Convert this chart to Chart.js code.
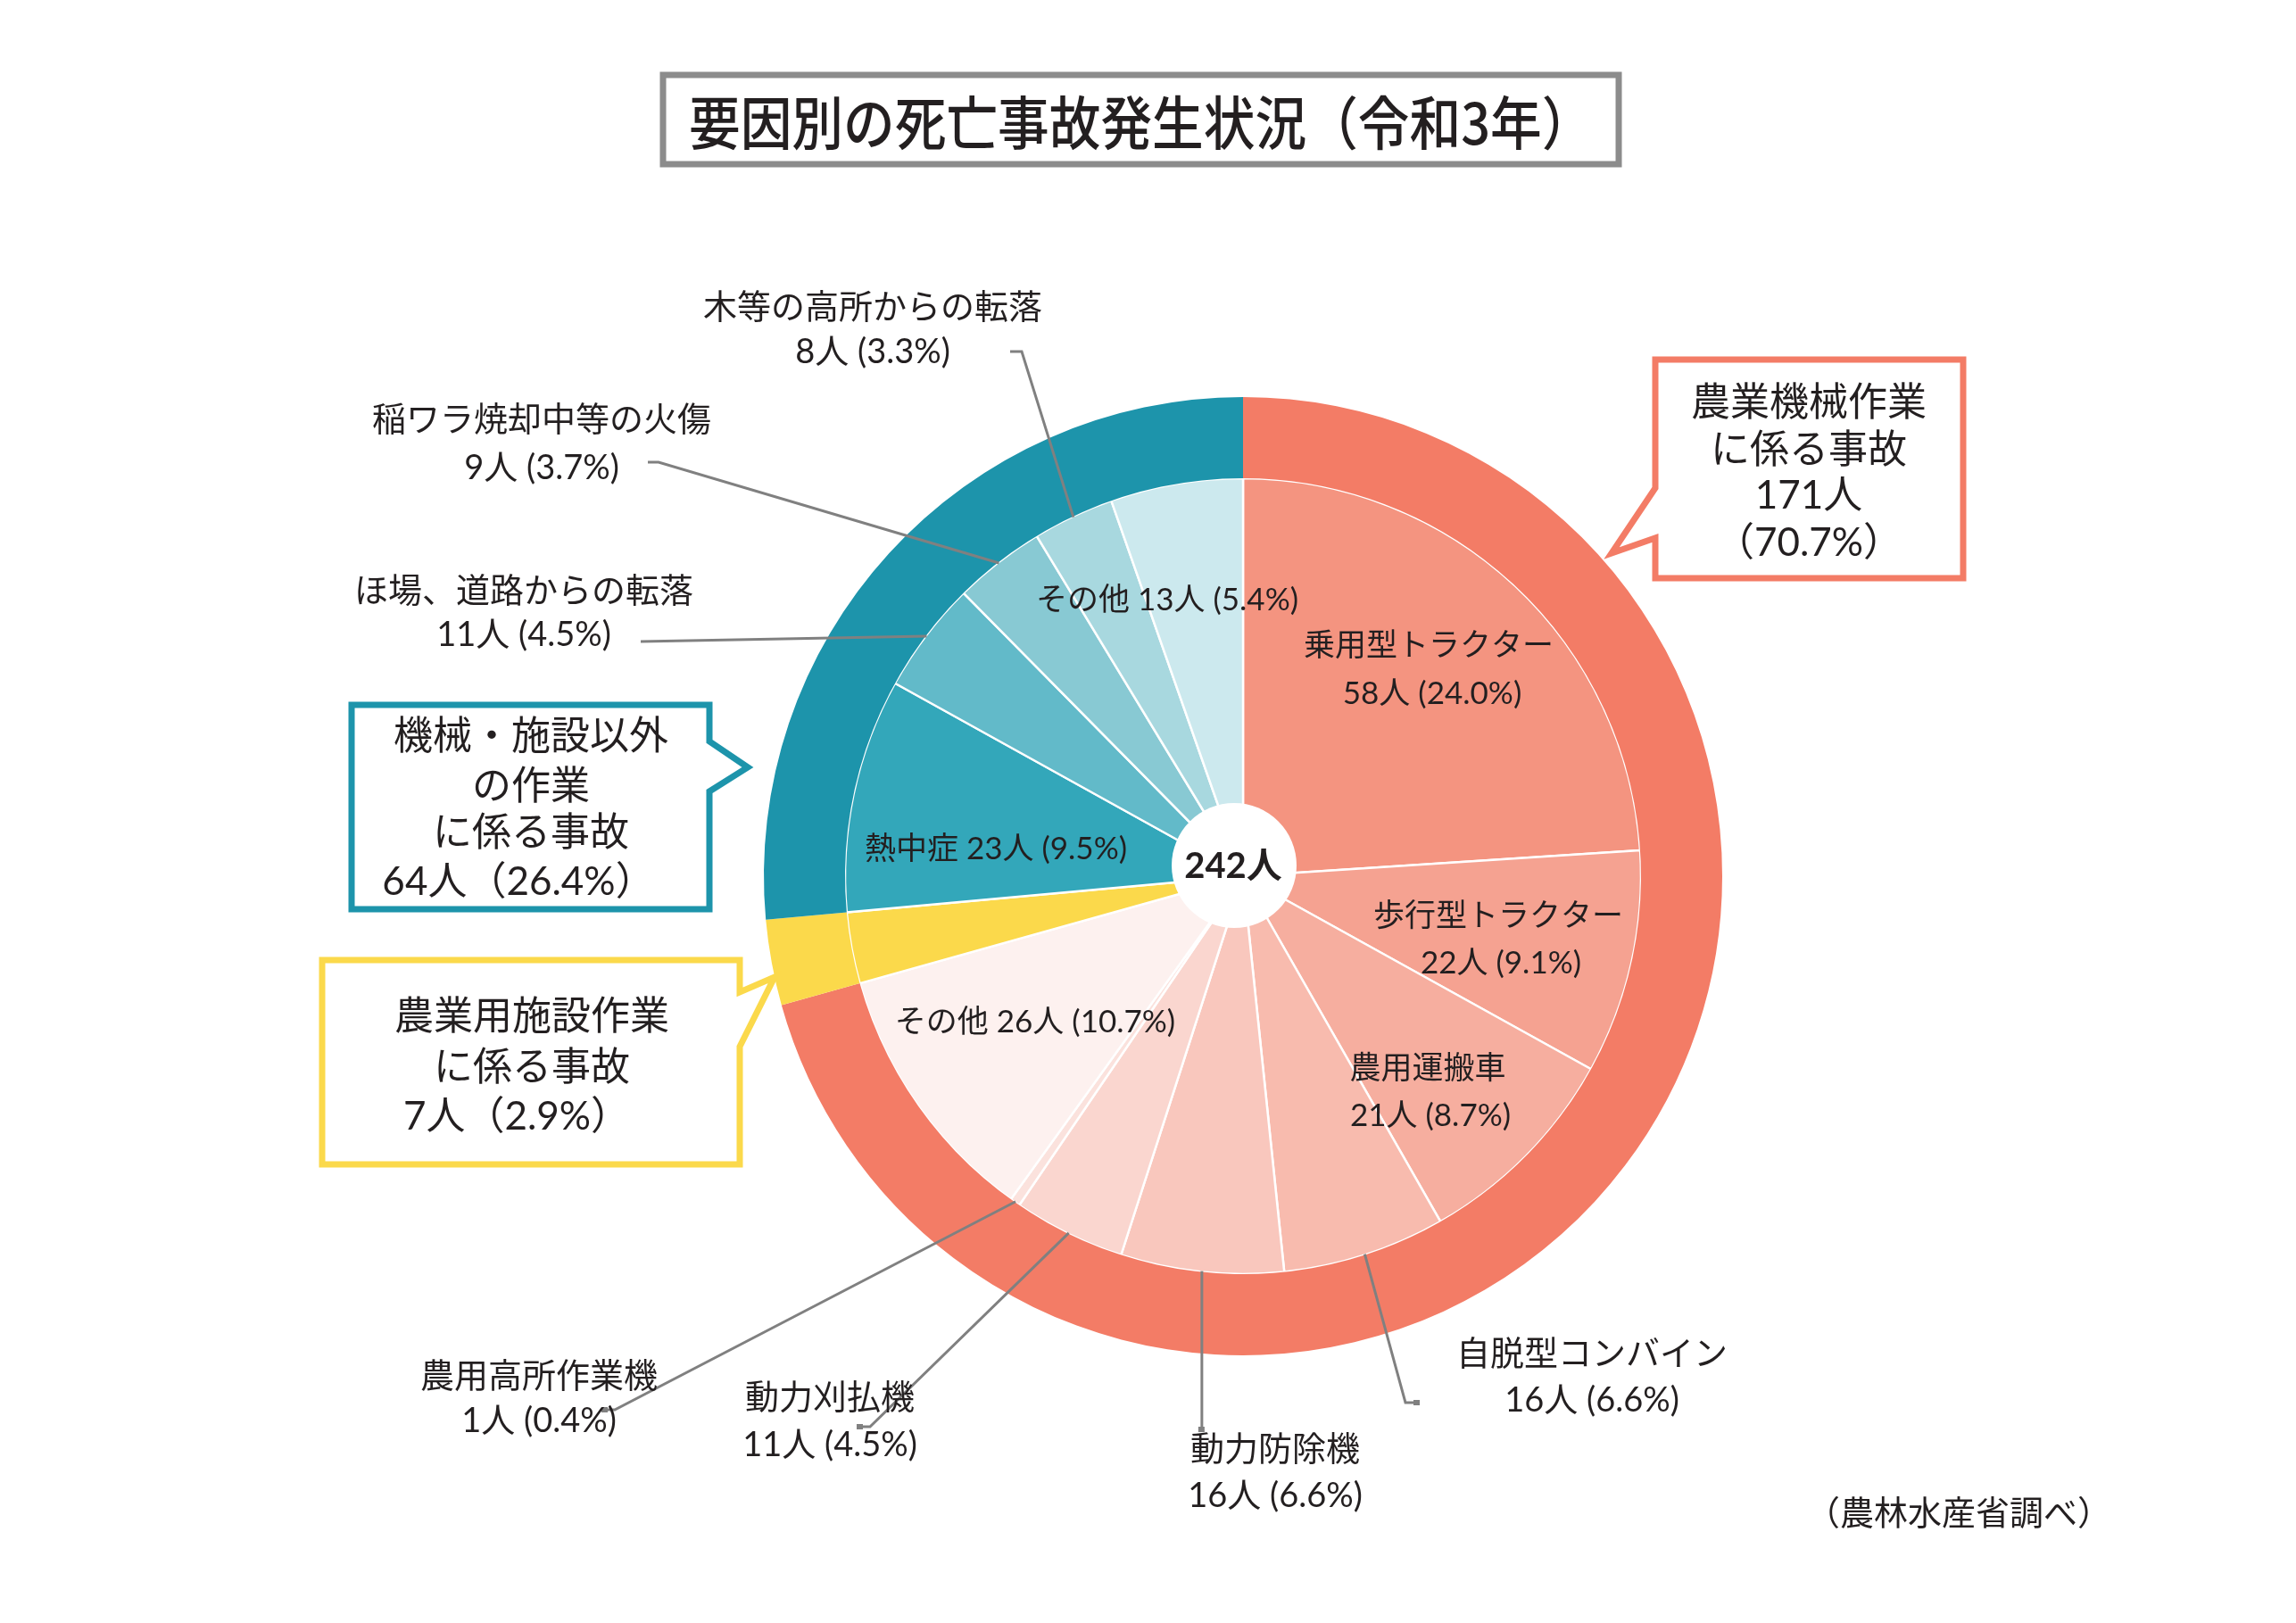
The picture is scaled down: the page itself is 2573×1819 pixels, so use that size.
<!DOCTYPE html>
<html lang="ja">
<head>
<meta charset="utf-8">
<title>要因別の死亡事故発生状況（令和3年）</title>
<script src="https://cdn.jsdelivr.net/npm/chart.js@4.4.1/dist/chart.umd.min.js"></script>
<style>
  html, body { margin: 0; padding: 0; background: #fff; }
  #chart { position: absolute; left: 0; top: 0; }
</style>
</head>
<body>
<canvas id="chart" width="2573" height="1819"></canvas>
<script>
// outer ring: three groups
const outerLabels = ["農業機械作業", "農業用施設作業", "機械・施設以外の作業"];
const outerValues = [171, 7, 64];
const outerColors = ["#F37C66", "#FBD94B", "#1D94AB"];

// inner pie: breakdown, clockwise from the top
const innerLabels = [
  "乗用型トラクター", "歩行型トラクター", "農用運搬車", "自脱型コンバイン",
  "動力防除機", "動力刈払機", "農用高所作業機", "その他",
  "農業用施設作業",
  "熱中症", "ほ場、道路からの転落", "稲ワラ焼却中等の火傷", "木等の高所からの転落", "その他"
];
const innerValues = [58, 22, 21, 16, 16, 11, 1, 26, 7, 23, 11, 9, 8, 13];
const innerColors = [
  "#F49480", "#F5A291", "#F6AE9F", "#F8BBAE", "#F9C7BD", "#FAD6CF", "#FBE2DD", "#FDF1EF",
  "#FBD94B",
  "#33A7BA", "#62BAC9", "#88C9D3", "#A8D8DF", "#CCE9EE"
];

const total = innerValues.reduce((a, b) => a + b, 0);
const pct = v => (v / total * 100).toFixed(1) + "%";

const TEXT = "#231F20";
const JP = '"Noto Sans CJK JP"';
const MIX = 'Lato, "Noto Sans CJK JP"';

// where each inner label goes; "lead" = leader line points from the label side
const innerText = {
  0: { lines: [[1601, 724], [1605, 778]], size: 35 },
  1: { lines: [[1679, 1027], [1682, 1080]], size: 35 },
  2: { lines: [[1600, 1198], [1603, 1251]], size: 35 },
  3: { lines: [[1784, 1518], [1784, 1570]], size: 38, lead: [[1588, 1572], [1575, 1572]], dot: true },
  4: { lines: [[1429, 1625], [1429, 1677]], size: 38, lead: [[null, 1602]], dot: true },
  5: { lines: [[930, 1567], [930, 1620]], size: 38, lead: [[964, 1599], [975, 1599]], dot: true },
  6: { lines: [[604, 1543], [604, 1593]], size: 38, lead: [[678, 1580], [689, 1580]], dot: true },
  7: { one: [1160, 1146], size: 35 },
  9: { one: [1116, 952], size: 35 },
  10: { lines: [[587, 663], [587, 712]], size: 38, lead: [[718, 719]] },
  11: { lines: [[607, 471], [607, 525]], size: 38, lead: [[726, 518], [738, 518]] },
  12: { lines: [[978, 345], [978, 395]], size: 38, lead: [[1132, 394], [1145, 394]] },
  13: { one: [1308, 673], size: 35 }
};

// callout boxes for the outer ring
const callouts = [
  { box: [1855, 403, 2200, 648], ptr: [[1855, 547], [1806, 620], [1855, 603]], side: "left",
    lines: [["農業機械作業", 2027, 452], ["に係る事故", 2027, 505], [outerValues[0] + "人", 2027, 556], ["（" + pct(outerValues[0]) + "）", 2027, 609]] },
  { box: [361, 1076, 829, 1305], ptr: [[829, 1112], [868, 1095], [829, 1173]], side: "right",
    lines: [["農業用施設作業", 596, 1140], ["に係る事故", 596, 1197], [outerValues[1] + "人（" + pct(outerValues[1]) + "）", 579, 1252]] },
  { box: [394, 790, 795, 1019], ptr: [[795, 831], [838, 860], [795, 887]], side: "right",
    lines: [["機械・施設以外", 595, 826], ["の作業", 595, 882], ["に係る事故", 595, 934], [outerValues[2] + "人（" + pct(outerValues[2]) + "）", 581, 989]] }
];

function text(ctx, s, x, y, font, align) {
  ctx.font = font;
  ctx.fillStyle = TEXT;
  ctx.textAlign = align || "center";
  ctx.textBaseline = "middle";
  ctx.fillText(s, x, y);
}

const decor = {
  id: "decor",
  afterDraw(chart) {
    const ctx = chart.ctx;
    const meta = chart.getDatasetMeta(1);
    ctx.save();

    // leader lines to the small slices
    ctx.strokeStyle = "#808080";
    ctx.lineWidth = 3;
    Object.keys(innerText).forEach(k => {
      const t = innerText[k];
      if (!t.lead) return;
      const arc = meta.data[k];
      const p = arc.getProps(["x", "y", "startAngle", "endAngle", "outerRadius"], true);
      const mid = (p.startAngle + p.endAngle) / 2;
      const ex = p.x + Math.cos(mid) * (p.outerRadius - 1);
      const ey = p.y + Math.sin(mid) * (p.outerRadius - 1);
      const pts = t.lead.map(q => [q[0] === null ? ex : q[0], q[1]]);
      ctx.beginPath();
      ctx.moveTo(pts[0][0], pts[0][1]);
      for (let i = 1; i < pts.length; i++) ctx.lineTo(pts[i][0], pts[i][1]);
      ctx.lineTo(ex, ey);
      ctx.stroke();
      if (t.dot) {
        ctx.fillStyle = "#808080";
        ctx.fillRect(pts[0][0] - 4, pts[0][1] - 3, 7, 6);
      }
    });

    // centre hole
    const c = meta.data[0].getProps(["x", "y"], true);
    ctx.fillStyle = "#fff";
    ctx.beginPath();
    ctx.arc(c.x - 10, c.y - 12, 70, 0, Math.PI * 2);
    ctx.fill();
    text(ctx, total + "人", c.x - 11, c.y - 11, "bold 40px " + MIX);

    // inner / outside labels
    Object.keys(innerText).forEach(k => {
      const t = innerText[k];
      const f = t.size + "px " + MIX;
      const v = innerValues[k];
      if (t.one) {
        text(ctx, innerLabels[k] + " " + v + "人 (" + pct(v) + ")", t.one[0], t.one[1], f);
      } else {
        text(ctx, innerLabels[k], t.lines[0][0], t.lines[0][1], f);
        text(ctx, v + "人 (" + pct(v) + ")", t.lines[1][0], t.lines[1][1], f);
      }
    });

    // callouts
    callouts.forEach((co, i) => {
      const [x0, y0, x1, y1] = co.box;
      const p = co.ptr;
      ctx.beginPath();
      if (co.side === "left") {
        ctx.moveTo(x0, y0); ctx.lineTo(x1, y0); ctx.lineTo(x1, y1); ctx.lineTo(x0, y1);
        ctx.lineTo(p[2][0], p[2][1]); ctx.lineTo(p[1][0], p[1][1]); ctx.lineTo(p[0][0], p[0][1]);
      } else {
        ctx.moveTo(x0, y0); ctx.lineTo(x1, y0); ctx.lineTo(p[0][0], p[0][1]); ctx.lineTo(p[1][0], p[1][1]);
        ctx.lineTo(p[2][0], p[2][1]); ctx.lineTo(x1, y1); ctx.lineTo(x0, y1);
      }
      ctx.closePath();
      ctx.fillStyle = "#fff";
      ctx.fill();
      ctx.lineWidth = 7;
      ctx.lineJoin = "miter";
      ctx.strokeStyle = outerColors[i];
      ctx.stroke();
      co.lines.forEach(l => text(ctx, l[0], l[1], l[2], "44px " + MIX));
    });

    // title
    ctx.lineWidth = 7;
    ctx.strokeStyle = "#8C8C8C";
    ctx.strokeRect(743, 84, 1071, 100);
    ctx.save();
    ctx.translate(772, 138);
    ctx.scale(1.03, 1.15);
    text(ctx, "要因別の死亡事故発生状況（令和3年）", 0, 0, "500 56px " + JP, "left");
    ctx.restore();

    // source note
    text(ctx, "（農林水産省調べ）", 2195, 1695, "38px " + JP);
    ctx.restore();
  }
};

new Chart(document.getElementById("chart").getContext("2d"), {
  type: "doughnut",
  data: {
    labels: innerLabels,
    datasets: [
      {
        label: "分類",
        data: outerValues,
        backgroundColor: outerColors,
        borderWidth: 0,
        weight: 91
      },
      {
        label: "要因",
        data: innerValues,
        backgroundColor: innerColors,
        borderColor: "#ffffff",
        borderWidth: 2.5,
        weight: 446
      }
    ]
  },
  options: {
    responsive: false,
    animation: false,
    cutout: 0,
    radius: 537,
    layout: { padding: { left: 400, right: 187, top: 300, bottom: 155 } },
    plugins: {
      legend: { display: false },
      tooltip: { enabled: false }
    }
  },
  plugins: [decor]
});
</script>
</body>
</html>
